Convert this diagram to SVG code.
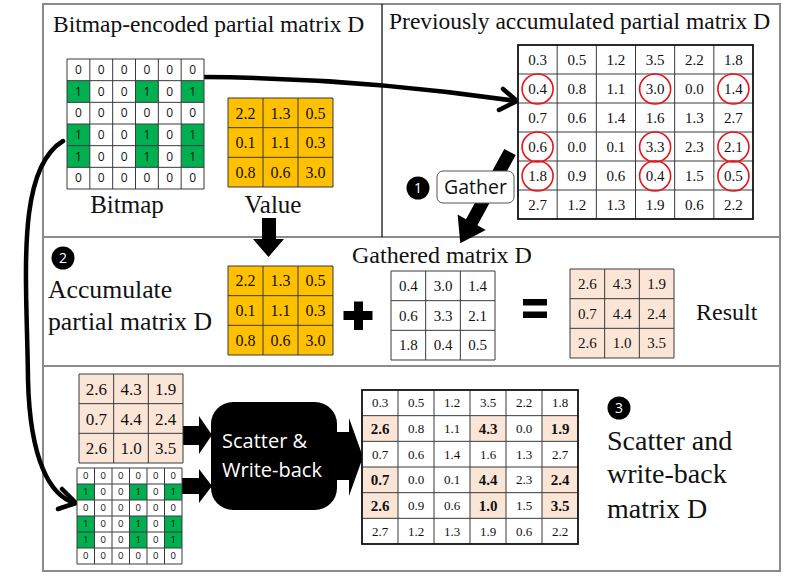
<svg xmlns="http://www.w3.org/2000/svg" width="789" height="577" viewBox="0 0 789 577">
<style>
.frame{fill:none;stroke:#8a8a8a;stroke-width:2}
.div{stroke:#8a8a8a;stroke-width:2}
.grid{fill:none;stroke:#3a3a3a;stroke-width:1}
.gridb{fill:none;stroke:#111;stroke-width:1.8}
.ser{font-family:"Liberation Serif","Times New Roman",serif;fill:#111}
.sans{font-family:"Open Sans","DejaVu Sans",sans-serif}
.c{text-anchor:middle}
.t{font-size:23.5px}
.bm{font-size:12px;fill:#111}
.bs{font-size:9.5px;fill:#111}
.v16{font-size:16px}
.v15{font-size:15px}
.v17{font-size:17px}
.v13{font-size:13px}
.vb{font-size:15px;font-weight:bold}
.num{font-size:14px;fill:#fff;text-anchor:middle}
.g{fill:#00b050}
.o{fill:#ffc000}
.p{fill:#fbe5d6}
.w{fill:#fff}
.rc{fill:none;stroke:#e8141b;stroke-width:1.6}
.line{fill:none;stroke:#000;stroke-width:4.5;stroke-linecap:round;stroke-linejoin:round}
</style>

<!-- panel frames -->
<g id="frame">
<rect class="frame" x="43" y="4" width="737" height="567"/>
<line class="div" x1="43" y1="237" x2="780" y2="237"/>
<line class="div" x1="43" y1="366" x2="780" y2="366"/>
<line x1="382" y1="4" x2="382" y2="237" stroke="#111" stroke-width="1.3"/>
</g>

<!-- connectors -->
<g id="connectors">
<path class="line" d="M204 77 Q360 78 516 101"/>
<polyline class="line" points="503,89 517,101 499,110"/>
<path class="line" d="M63 141 C15 170 27 280 28 380 C30 460 50 496 75 503"/>
<polyline class="line" points="62,489 76,503 58,509"/>
<g transform="translate(510,152) rotate(118.6)">
<polygon points="0,-6.5 80,-6.5 80,-16 104,0 80,16 80,6.5 0,6.5" fill="#000"/>
</g>
<polygon points="262,218 276,218 276,239 284,239 268.5,257 253,239 262,239" fill="#000"/>
<polygon points="183,426 199,426 199,416 212,435 199,454 199,445 183,445" fill="#000"/>
<polygon points="182,478 199,478 199,469 212,486 199,503 199,494 182,494" fill="#000"/>
<polygon points="335,432 349,432 349,418 363,457 349,496 349,480 335,480" fill="#000"/>
</g>

<!-- titles -->
<g id="titles">
<text class="ser t" x="53" y="32">Bitmap-encoded partial matrix D</text>
<text class="ser t" x="389" y="29">Previously accumulated partial matrix D</text>
</g>

<!-- top bitmap -->
<g id="bitmap-top">
<rect x="67" y="59" width="137" height="130" class="w"/>
<rect class="g" x="67" y="80.67" width="22.83" height="21.67"/>
<rect class="g" x="135.5" y="80.67" width="22.83" height="21.67"/>
<rect class="g" x="181.17" y="80.67" width="22.83" height="21.67"/>
<rect class="g" x="67" y="124" width="22.83" height="43.33"/>
<rect class="g" x="135.5" y="124" width="22.83" height="43.33"/>
<rect class="g" x="181.17" y="124" width="22.83" height="43.33"/>
<path class="grid" d="M67 59H204V189H67Z M89.83 59V189 M112.67 59V189 M135.5 59V189 M158.33 59V189 M181.17 59V189 M67 80.67H204 M67 102.33H204 M67 124H204 M67 145.67H204 M67 167.33H204"/>
<g class="sans bm c">
<text x="78.4" y="74">0</text><text x="101.3" y="74">0</text><text x="124.1" y="74">0</text><text x="146.9" y="74">0</text><text x="169.8" y="74">0</text><text x="192.6" y="74">0</text>
<text x="78.4" y="95.7">1</text><text x="101.3" y="95.7">0</text><text x="124.1" y="95.7">0</text><text x="146.9" y="95.7">1</text><text x="169.8" y="95.7">0</text><text x="192.6" y="95.7">1</text>
<text x="78.4" y="117.4">0</text><text x="101.3" y="117.4">0</text><text x="124.1" y="117.4">0</text><text x="146.9" y="117.4">0</text><text x="169.8" y="117.4">0</text><text x="192.6" y="117.4">0</text>
<text x="78.4" y="139">1</text><text x="101.3" y="139">0</text><text x="124.1" y="139">0</text><text x="146.9" y="139">1</text><text x="169.8" y="139">0</text><text x="192.6" y="139">1</text>
<text x="78.4" y="160.7">1</text><text x="101.3" y="160.7">0</text><text x="124.1" y="160.7">0</text><text x="146.9" y="160.7">1</text><text x="169.8" y="160.7">0</text><text x="192.6" y="160.7">1</text>
<text x="78.4" y="182.4">0</text><text x="101.3" y="182.4">0</text><text x="124.1" y="182.4">0</text><text x="146.9" y="182.4">0</text><text x="169.8" y="182.4">0</text><text x="192.6" y="182.4">0</text>
</g>
<text class="ser c" x="127" y="213" font-size="25">Bitmap</text>
</g>

<!-- top value matrix -->
<g id="value-top">
<rect class="o" x="228" y="98" width="105" height="89"/>
<path class="grid" d="M228 98H333V187H228Z M263 98V187 M298 98V187 M228 127.67H333 M228 157.33H333"/>
<g class="ser v16 c">
<text x="245.5" y="118.5">2.2</text><text x="280.5" y="118.5">1.3</text><text x="315.5" y="118.5">0.5</text>
<text x="245.5" y="148">0.1</text><text x="280.5" y="148">1.1</text><text x="315.5" y="148">0.3</text>
<text x="245.5" y="178">0.8</text><text x="280.5" y="178">0.6</text><text x="315.5" y="178">3.0</text>
</g>
<text class="ser c" x="273" y="213" font-size="25">Value</text>
</g>

<!-- previously accumulated matrix -->
<g id="prev-matrix">
<rect class="w" x="518" y="45" width="235" height="174"/>
<path class="grid" d="M557.17 45V219 M596.33 45V219 M635.5 45V219 M674.67 45V219 M713.83 45V219 M518 74H753 M518 103H753 M518 132H753 M518 161H753 M518 190H753"/>
<rect class="gridb" x="518" y="45" width="235" height="174"/>
<g class="ser v15 c">
<text x="537.6" y="64.7">0.3</text><text x="576.8" y="64.7">0.5</text><text x="615.9" y="64.7">1.2</text><text x="655.1" y="64.7">3.5</text><text x="694.3" y="64.7">2.2</text><text x="733.4" y="64.7">1.8</text>
<text x="537.6" y="93.7">0.4</text><text x="576.8" y="93.7">0.8</text><text x="615.9" y="93.7">1.1</text><text x="655.1" y="93.7">3.0</text><text x="694.3" y="93.7">0.0</text><text x="733.4" y="93.7">1.4</text>
<text x="537.6" y="122.7">0.7</text><text x="576.8" y="122.7">0.6</text><text x="615.9" y="122.7">1.4</text><text x="655.1" y="122.7">1.6</text><text x="694.3" y="122.7">1.3</text><text x="733.4" y="122.7">2.7</text>
<text x="537.6" y="151.7">0.6</text><text x="576.8" y="151.7">0.0</text><text x="615.9" y="151.7">0.1</text><text x="655.1" y="151.7">3.3</text><text x="694.3" y="151.7">2.3</text><text x="733.4" y="151.7">2.1</text>
<text x="537.6" y="180.7">1.8</text><text x="576.8" y="180.7">0.9</text><text x="615.9" y="180.7">0.6</text><text x="655.1" y="180.7">0.4</text><text x="694.3" y="180.7">1.5</text><text x="733.4" y="180.7">0.5</text>
<text x="537.6" y="209.7">2.7</text><text x="576.8" y="209.7">1.2</text><text x="615.9" y="209.7">1.3</text><text x="655.1" y="209.7">1.9</text><text x="694.3" y="209.7">0.6</text><text x="733.4" y="209.7">2.2</text>
</g>
<ellipse class="rc" cx="537.6" cy="89" rx="15.5" ry="15"/><ellipse class="rc" cx="655.1" cy="89" rx="15.5" ry="15"/><ellipse class="rc" cx="733.4" cy="89" rx="15.5" ry="15"/>
<ellipse class="rc" cx="537.6" cy="147" rx="15.5" ry="15"/><ellipse class="rc" cx="655.1" cy="147" rx="15.5" ry="15"/><ellipse class="rc" cx="733.4" cy="147" rx="15.5" ry="15"/>
<ellipse class="rc" cx="537.6" cy="176" rx="15.5" ry="15"/><ellipse class="rc" cx="655.1" cy="176" rx="15.5" ry="15"/><ellipse class="rc" cx="733.4" cy="176" rx="15.5" ry="15"/>
</g>

<!-- step 1 gather label -->
<g id="gather">
<circle cx="418" cy="188" r="11.5" fill="#000"/>
<text class="sans num" x="418" y="193">1</text>
<rect x="437" y="171" width="77" height="32" rx="6" fill="#fff" stroke="#555" stroke-width="1"/>
<text class="sans c" x="475.5" y="194" font-size="19.5" fill="#111">Gather</text>
</g>

<!-- step 2 -->
<g id="step2-label">
<circle cx="63" cy="258" r="11.5" fill="#000"/>
<text class="sans num" x="63" y="263">2</text>
<text class="ser" x="48" y="298" font-size="25.7">Accumulate</text>
<text class="ser" x="48" y="330" font-size="25.7">partial matrix D</text>
</g>

<g id="value-mid">
<rect class="o" x="228" y="266" width="105" height="89"/>
<path class="grid" d="M228 266H333V355H228Z M263 266V355 M298 266V355 M228 295.67H333 M228 325.33H333"/>
<g class="ser v16 c">
<text x="245.5" y="286.4">2.2</text><text x="280.5" y="286.4">1.3</text><text x="315.5" y="286.4">0.5</text>
<text x="245.5" y="316.1">0.1</text><text x="280.5" y="316.1">1.1</text><text x="315.5" y="316.1">0.3</text>
<text x="245.5" y="345.8">0.8</text><text x="280.5" y="345.8">0.6</text><text x="315.5" y="345.8">3.0</text>
</g>
</g>

<g id="plus">
<rect x="343.5" y="311" width="29" height="9" fill="#000"/>
<rect x="354" y="301.5" width="9" height="28.5" fill="#000"/>
</g>

<g id="gathered">
<text class="ser" x="352" y="263" font-size="24">Gathered matrix D</text>
<rect class="w" x="391" y="271" width="104" height="89"/>
<path class="grid" d="M391 271H495V360H391Z M425.67 271V360 M460.33 271V360 M391 300.67H495 M391 330.33H495"/>
<g class="ser v15 c">
<text x="408.3" y="291">0.4</text><text x="443" y="291">3.0</text><text x="477.7" y="291">1.4</text>
<text x="408.3" y="320.7">0.6</text><text x="443" y="320.7">3.3</text><text x="477.7" y="320.7">2.1</text>
<text x="408.3" y="350.4">1.8</text><text x="443" y="350.4">0.4</text><text x="477.7" y="350.4">0.5</text>
</g>
</g>

<g id="equals">
<rect x="523" y="299" width="24" height="6.5" fill="#000"/>
<rect x="523" y="311.5" width="24" height="6.5" fill="#000"/>
</g>

<g id="result">
<rect class="p" x="570" y="269" width="104" height="89"/>
<path class="grid" d="M570 269H674V358H570Z M604.67 269V358 M639.33 269V358 M570 298.67H674 M570 328.33H674"/>
<g class="ser v15 c">
<text x="587.3" y="289">2.6</text><text x="622" y="289">4.3</text><text x="656.7" y="289">1.9</text>
<text x="587.3" y="318.7">0.7</text><text x="622" y="318.7">4.4</text><text x="656.7" y="318.7">2.4</text>
<text x="587.3" y="348.4">2.6</text><text x="622" y="348.4">1.0</text><text x="656.7" y="348.4">3.5</text>
</g>
<text class="ser" x="696" y="320" font-size="24">Result</text>
</g>

<!-- step 3 -->
<g id="result-bottom">
<rect class="p" x="79" y="374" width="104" height="89"/>
<path class="grid" d="M79 374H183V463H79Z M113.67 374V463 M148.33 374V463 M79 403.67H183 M79 433.33H183"/>
<g class="ser v17 c">
<text x="96.3" y="394.8">2.6</text><text x="131" y="394.8">4.3</text><text x="165.7" y="394.8">1.9</text>
<text x="96.3" y="424.5">0.7</text><text x="131" y="424.5">4.4</text><text x="165.7" y="424.5">2.4</text>
<text x="96.3" y="454.2">2.6</text><text x="131" y="454.2">1.0</text><text x="165.7" y="454.2">3.5</text>
</g>
</g>

<g id="bitmap-bottom">
<rect class="w" x="77" y="468" width="105" height="96"/>
<rect class="g" x="77" y="484" width="17.5" height="16"/>
<rect class="g" x="129.5" y="484" width="17.5" height="16"/>
<rect class="g" x="164.5" y="484" width="17.5" height="16"/>
<rect class="g" x="77" y="516" width="17.5" height="32"/>
<rect class="g" x="129.5" y="516" width="17.5" height="32"/>
<rect class="g" x="164.5" y="516" width="17.5" height="32"/>
<path class="grid" d="M77 468H182V564H77Z M94.5 468V564 M112 468V564 M129.5 468V564 M147 468V564 M164.5 468V564 M77 484H182 M77 500H182 M77 516H182 M77 532H182 M77 548H182"/>
<g class="sans bs c">
<text x="85.75" y="479.4">0</text><text x="103.25" y="479.4">0</text><text x="120.75" y="479.4">0</text><text x="138.25" y="479.4">0</text><text x="155.75" y="479.4">0</text><text x="173.25" y="479.4">0</text>
<text x="85.75" y="495.4">1</text><text x="103.25" y="495.4">0</text><text x="120.75" y="495.4">0</text><text x="138.25" y="495.4">1</text><text x="155.75" y="495.4">0</text><text x="173.25" y="495.4">1</text>
<text x="85.75" y="511.4">0</text><text x="103.25" y="511.4">0</text><text x="120.75" y="511.4">0</text><text x="138.25" y="511.4">0</text><text x="155.75" y="511.4">0</text><text x="173.25" y="511.4">0</text>
<text x="85.75" y="527.4">1</text><text x="103.25" y="527.4">0</text><text x="120.75" y="527.4">0</text><text x="138.25" y="527.4">1</text><text x="155.75" y="527.4">0</text><text x="173.25" y="527.4">1</text>
<text x="85.75" y="543.4">1</text><text x="103.25" y="543.4">0</text><text x="120.75" y="543.4">0</text><text x="138.25" y="543.4">1</text><text x="155.75" y="543.4">0</text><text x="173.25" y="543.4">1</text>
<text x="85.75" y="559.4">0</text><text x="103.25" y="559.4">0</text><text x="120.75" y="559.4">0</text><text x="138.25" y="559.4">0</text><text x="155.75" y="559.4">0</text><text x="173.25" y="559.4">0</text>
</g>
</g>

<g id="scatter-box">
<rect x="211" y="402" width="126" height="108" rx="22" fill="#000"/>
<text class="sans" x="222" y="448" font-size="20" fill="#fff">Scatter &amp;</text>
<text class="sans" x="222" y="477" font-size="20" fill="#fff">Write-back</text>
</g>

<g id="final-matrix">
<rect class="w" x="362" y="390" width="216" height="154"/>
<rect class="p" x="362" y="415.67" width="36" height="25.67"/><rect class="p" x="470" y="415.67" width="36" height="25.67"/><rect class="p" x="542" y="415.67" width="36" height="25.67"/>
<rect class="p" x="362" y="467" width="36" height="51.33"/><rect class="p" x="470" y="467" width="36" height="51.33"/><rect class="p" x="542" y="467" width="36" height="51.33"/>
<path class="grid" d="M398 390V544 M434 390V544 M470 390V544 M506 390V544 M542 390V544 M362 415.67H578 M362 441.33H578 M362 467H578 M362 492.67H578 M362 518.33H578"/>
<rect class="gridb" x="362" y="390" width="216" height="154"/>
<g class="ser v13 c">
<text x="380" y="407.3">0.3</text><text x="416" y="407.3">0.5</text><text x="452" y="407.3">1.2</text><text x="488" y="407.3">3.5</text><text x="524" y="407.3">2.2</text><text x="560" y="407.3">1.8</text>
<text x="416" y="433">0.8</text><text x="452" y="433">1.1</text><text x="524" y="433">0.0</text>
<text x="380" y="458.7">0.7</text><text x="416" y="458.7">0.6</text><text x="452" y="458.7">1.4</text><text x="488" y="458.7">1.6</text><text x="524" y="458.7">1.3</text><text x="560" y="458.7">2.7</text>
<text x="416" y="484.3">0.0</text><text x="452" y="484.3">0.1</text><text x="524" y="484.3">2.3</text>
<text x="416" y="510">0.9</text><text x="452" y="510">0.6</text><text x="524" y="510">1.5</text>
<text x="380" y="535.7">2.7</text><text x="416" y="535.7">1.2</text><text x="452" y="535.7">1.3</text><text x="488" y="535.7">1.9</text><text x="524" y="535.7">0.6</text><text x="560" y="535.7">2.2</text>
</g>
<g class="ser vb c">
<text x="380" y="433.7">2.6</text><text x="488" y="433.7">4.3</text><text x="560" y="433.7">1.9</text>
<text x="380" y="485">0.7</text><text x="488" y="485">4.4</text><text x="560" y="485">2.4</text>
<text x="380" y="510.7">2.6</text><text x="488" y="510.7">1.0</text><text x="560" y="510.7">3.5</text>
</g>
</g>

<g id="step3-label">
<circle cx="619" cy="408" r="11.5" fill="#000"/>
<text class="sans num" x="619" y="413">3</text>
<text class="ser" x="607" y="450" font-size="28">Scatter and</text>
<text class="ser" x="607" y="483" font-size="28">write-back</text>
<text class="ser" x="607" y="518" font-size="28">matrix D</text>
</g>
</svg>
